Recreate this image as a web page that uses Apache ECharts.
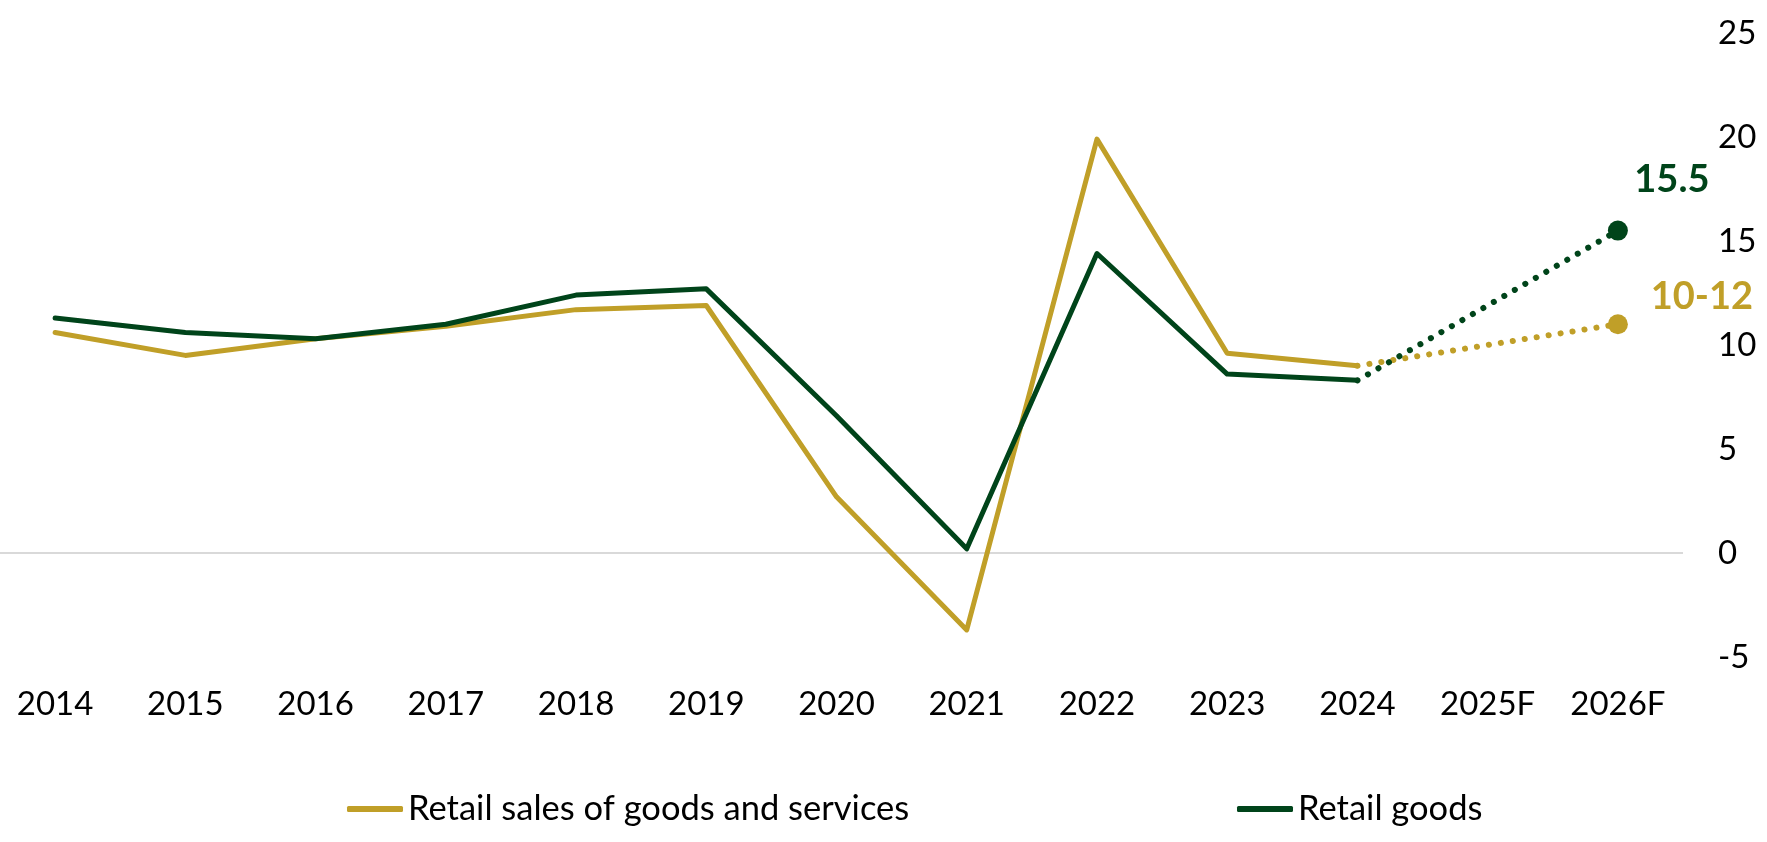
<!DOCTYPE html>
<html>
<head>
<meta charset="utf-8">
<script src="https://cdn.jsdelivr.net/npm/echarts@6/dist/echarts.min.js"></script>
<style>
html,body{margin:0;padding:0;background:#fff;overflow:hidden;width:1767px;height:842px;position:relative;}
#chart{width:1777px;height:842px;position:absolute;left:-10px;top:0;}
</style>
</head>
<body>
<div id="chart"></div>
<script>
const categories = ['2014','2015','2016','2017','2018','2019','2020','2021','2022','2023','2024','2025F','2026F'];
const goodsServices = [10.6, 9.5, 10.3, 10.9, 11.7, 11.9, 2.7, -3.7, 19.9, 9.6, 9.0, null, null];
const goodsServicesForecast = [null, null, null, null, null, null, null, null, null, null, 9.0, null, 11.0];
const retailGoods = [11.3, 10.6, 10.3, 11.0, 12.4, 12.7, 6.6, 0.2, 14.4, 8.6, 8.3, null, null];
const retailGoodsForecast = [null, null, null, null, null, null, null, null, null, null, 8.3, null, 15.5];
const forecastLabels = { gold: '10-12', green: '15.5' };
const yTicks = { min: -5, max: 25, interval: 5 };

const GOLD = '#C09F28';
const GREEN = '#00441A';
const FONT = 'Lato';

function forecastData(arr, label, color, offset) {
  return arr.map((v, i) => {
    if (v === null) return null;
    if (i === arr.length - 1) {
      return {
        value: v,
        symbol: 'circle',
        symbolSize: 20,
        itemStyle: { color: color },
        label: {
          show: true,
          formatter: label,
          position: 'inside',
          align: 'center',
          verticalAlign: 'middle',
          offset: offset,
          color: color,
          fontFamily: FONT,
          fontWeight: 'bold',
          fontSize: 38
        }
      };
    }
    return { value: v, symbol: 'none' };
  });
}

const legendText = { fontFamily: FONT, fontSize: 34.5, color: '#000', lineHeight: 40, padding: [0,0,0,0] };

const chart = echarts.init(document.getElementById('chart'));
chart.setOption({
  animation: false,
  backgroundColor: '#fff',
  grid: { left: 0, right: 84, top: 33, bottom: 185, containLabel: false },
  legend: [
    {
      data: ['Retail sales of goods and services'],
      left: 357, top: 789, padding: 0,
      icon: 'roundRect', itemWidth: 56, itemHeight: 6, itemGap: 0,
      textStyle: legendText,
      selectedMode: false
    },
    {
      data: ['Retail goods'],
      left: 1247, top: 789, padding: 0,
      icon: 'roundRect', itemWidth: 56, itemHeight: 6, itemGap: 0,
      textStyle: legendText,
      selectedMode: false
    }
  ],
  xAxis: {
    type: 'category',
    data: categories,
    boundaryGap: true,
    axisLine: { show: false },
    axisTick: { show: false },
    axisLabel: { fontFamily: FONT, fontSize: 33, color: '#000', margin: 31 },
    splitLine: { show: false }
  },
  yAxis: {
    type: 'value',
    position: 'right',
    min: yTicks.min, max: yTicks.max, interval: yTicks.interval,
    axisLine: { show: false },
    axisTick: { show: false },
    splitLine: { show: false },
    axisLabel: { fontFamily: FONT, fontSize: 33, color: '#000', margin: 35, align: 'left' }
  },
  series: [
    {
      name: 'Retail sales of goods and services',
      type: 'line',
      data: goodsServices,
      symbol: 'none',
      lineStyle: { color: GOLD, width: 5, cap: 'round', join: 'round' },
      itemStyle: { color: GOLD },
      z: 3,
      markLine: {
        silent: true,
        symbol: 'none',
        label: { show: false },
        lineStyle: { color: '#D9D9D9', width: 2, type: 'solid' },
        data: [{ yAxis: 0 }],
        z: 1
      }
    },
    {
      name: 'Retail goods',
      type: 'line',
      data: retailGoods,
      symbol: 'none',
      lineStyle: { color: GREEN, width: 5, cap: 'round', join: 'round' },
      itemStyle: { color: GREEN },
      z: 4
    },
    {
      name: 'Retail sales of goods and services',
      type: 'line',
      data: forecastData(goodsServicesForecast, forecastLabels.gold, GOLD, [84, -27]),
      connectNulls: true,
      showSymbol: true,
      lineStyle: { color: GOLD, width: 6, type: [0.1, 12], cap: 'round' },
      itemStyle: { color: GOLD },
      z: 3
    },
    {
      name: 'Retail goods',
      type: 'line',
      data: forecastData(retailGoodsForecast, forecastLabels.green, GREEN, [54, -51]),
      connectNulls: true,
      showSymbol: true,
      lineStyle: { color: GREEN, width: 6, type: [0.1, 12], cap: 'round' },
      itemStyle: { color: GREEN },
      z: 4
    }
  ]
});
</script>
</body>
</html>
